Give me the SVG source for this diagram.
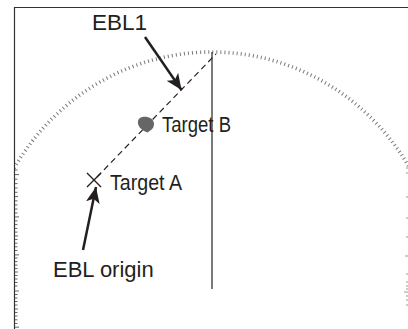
<svg xmlns="http://www.w3.org/2000/svg" width="408" height="329" viewBox="0 0 408 329">
<style>
  .lbl{font-family:"Liberation Sans",Arial,sans-serif;fill:#231f20}
  .tick{stroke:#666;stroke-width:1}
  .arrow{stroke:#231f20;stroke-width:2.5;fill:none}
</style>
<defs>
  <clipPath id="scr"><rect x="15" y="8" width="400" height="330"/></clipPath>
  <marker id="ah" markerUnits="userSpaceOnUse" markerWidth="18" markerHeight="14" refX="16" refY="7" orient="auto">
    <path d="M0,0 L16,7 L0,14 L4,7 Z" fill="#231f20"/>
  </marker>
</defs>
<rect width="408" height="329" fill="#fff"/>

<g id="bearing-ring" clip-path="url(#scr)">
  <ellipse cx="212" cy="289" rx="230" ry="237" fill="none" stroke="#7a7a7a" stroke-width="3.6" stroke-dasharray="1 3.075"/>
</g>

<g id="frame">
  <path d="M14.5,329 V7.5 H408" fill="none" stroke="#333" stroke-width="1.2"/>
  <g id="left-scale">
    <path class="tick" d="M15,170 h2.5 M15,174.6 h4 M15,179.2 h2.5 M15,183.6 h2.5 M15,188 h2.5 M15,192.3 h2.5 M15,196.6 h3 M15,200.8 h2.5 M15,204.9 h2.5 M15,209 h2.5 M15,213 h2.5 M15,216.9 h4 M15,220.8 h2.5 M15,224.6 h2.5 M15,228.4 h2.5 M15,232.1 h2.5 M15,235.9 h3 M15,239.5 h2.5 M15,243.2 h2.5 M15,246.8 h2.5 M15,250.5 h2.5 M15,254.9 h4 M15,258 h2.5 M15,261.6 h2.5 M15,265.1 h2.5 M15,268.6 h2.5 M15,272 h3 M15,275.5 h2.5 M15,279 h2.5 M15,282.5 h2.5 M15,286 h2.5 M15,291 h4 M15,294.5 h2.5 M15,298 h2.5 M15,301.5 h2.5 M15,305 h2.5 M15,309 h3 M15,312.5 h2.5 M15,316 h2.5 M15,319.8 h2.5 M15,323.5 h2.5 M15,327.2 h4"/>
  </g>
  <g id="right-scale">
    <path d="M406,168 h2 M406,173 h2 M406,197 h2 M406,218 h2 M406,237 h2 M405,256 h3 M406,274 h2 M406,282 h2 M406,286 h2 M406,289 h2 M404,292 h4 M406,296 h2 M406,300 h2 M406,305 h2" stroke="#999" stroke-width="1"/>
  </g>
</g>

<g id="heading-line">
  <line x1="212" y1="52" x2="212" y2="289" stroke="#333" stroke-width="1.3"/>
</g>

<g id="connectors">
  <line id="ebl1" x1="97" y1="177" x2="216" y2="54" stroke="#231f20" stroke-width="1.2" stroke-dasharray="6 4"/>
  <line class="arrow" x1="145" y1="37" x2="181.5" y2="90" marker-end="url(#ah)"/>
  <line class="arrow" x1="83" y1="250" x2="96" y2="187" marker-end="url(#ah)"/>
</g>

<g id="target-a">
  <path d="M87,173 L101,187 M87,187 L101,173" stroke="#231f20" stroke-width="1.4"/>
  <text class="lbl" x="110" y="190" font-size="22.5" textLength="72" lengthAdjust="spacingAndGlyphs">Target A</text>
</g>

<g id="target-b">
  <path d="M138,121 C139,116 147,116 151,118.5 C155,121 155,127 151,130 L147.5,132.5 C143,131 137,127 138,121 Z" fill="#666"/>
  <text class="lbl" x="162" y="132" font-size="21.5" textLength="69" lengthAdjust="spacingAndGlyphs">Target B</text>
</g>

<g id="label-ebl1">
  <text class="lbl" x="92" y="30" font-size="22.5">EBL1</text>
</g>
<g id="label-ebl-origin">
  <text class="lbl" x="53" y="277" font-size="22">EBL origin</text>
</g>
</svg>
